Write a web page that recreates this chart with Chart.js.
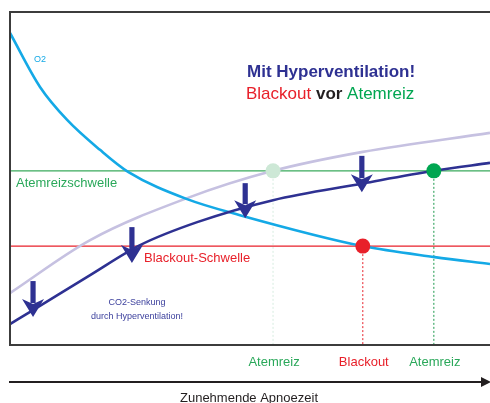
<!DOCTYPE html>
<html>
<head>
<meta charset="utf-8">
<script src="https://cdn.jsdelivr.net/npm/chart.js@4/dist/chart.umd.min.js"></script>
<style>
  html, body { margin: 0; padding: 0; background: #ffffff; }
  #wrap { width: 490px; height: 403px; position: relative; }
</style>
</head>
<body>
<div id="wrap"><canvas id="c" width="490" height="403"></canvas></div>
<script>
// ---- data (time in % of plotted apnoea time, level in % of plot height) ----
const o2Time   = [0, 6.25, 11.9, 18.75, 24.6, 36.9, 47.9, 73.5, 88.5, 100];
const o2Level  = [93.7, 77.5, 67.6, 58.6, 52.0, 43.8, 39.0, 29.7, 26.4, 24.3];

const co2Time   = [0, 16.7, 36.9, 54.8, 73.5, 100];
const co2Normal = [15.6, 31.5, 44.1, 52.3, 58.0, 63.7];

const hyperTime = [0, 4.8, 16.7, 27.1, 39.0, 54.8, 73.5, 88.3, 100];
const co2Hyper  = [6.3, 10.5, 21.0, 30.0, 36.9, 43.5, 48.5, 52.3, 54.7];

const atemreizLevel = 52.3;
const blackoutLevel = 29.7;

const eventTime  = [54.8, 73.5, 88.3];
const eventLevel = [52.3, 29.7, 52.3];
const eventLabel = ['Atemreiz', 'Blackout', 'Atemreiz'];
const eventColor = ['#cde8d6', '#e8202a', '#00a651'];
const eventLabelColor = ['#2aa85a', '#e8202a', '#2aa85a'];
const eventLineColor = ['#d6ecdf', '#e8202a', '#1e9a4e'];

const arrowTime = [4.8, 25.4, 49.0, 73.3];
const arrowFrom = [19.2, 35.4, 48.6, 56.8];
const arrowTo   = [8.4, 24.6, 38.1, 45.9];

// ---- build datasets ----
const zip = (xs, ys) => xs.map((x, i) => ({ x: x, y: ys[i] }));

const datasets = [];
// vertical dotted event lines
eventTime.forEach((t, i) => {
  datasets.push({
    type: 'line', data: [{ x: t, y: eventLevel[i] }, { x: t, y: 0 }],
    borderColor: eventLineColor[i], borderWidth: 1, borderDash: [2, 2],
    pointRadius: 0, fill: false, order: 10
  });
});
// threshold lines
datasets.push({ type: 'line', data: [{ x: 0, y: atemreizLevel }, { x: 100, y: atemreizLevel }],
  borderColor: '#3aaa5c', borderWidth: 1.2, pointRadius: 0, order: 9 });
datasets.push({ type: 'line', data: [{ x: 0, y: blackoutLevel }, { x: 100, y: blackoutLevel }],
  borderColor: '#e8202a', borderWidth: 1.2, pointRadius: 0, order: 9 });
// curves
datasets.push({ type: 'line', data: zip(co2Time, co2Normal), borderColor: '#c6c1e1', borderWidth: 2.6,
  pointRadius: 0, cubicInterpolationMode: 'monotone', order: 8 });
datasets.push({ type: 'line', data: zip(o2Time, o2Level), borderColor: '#14a9e6', borderWidth: 2.6,
  pointRadius: 0, cubicInterpolationMode: 'monotone', order: 7 });
datasets.push({ type: 'line', data: zip(hyperTime, co2Hyper), borderColor: '#2e3192', borderWidth: 2.6,
  pointRadius: 0, cubicInterpolationMode: 'monotone', order: 6 });
// event points
datasets.push({ type: 'scatter', data: zip(eventTime, eventLevel), pointRadius: 7.5, pointHoverRadius: 7.5,
  backgroundColor: eventColor, borderWidth: 0, order: 1 });

// ---- plugin for frame, arrows and texts ----
const decor = {
  id: 'decor',
  afterDatasetsDraw(chart) {
    const ctx = chart.ctx, xs = chart.scales.x, ys = chart.scales.y, a = chart.chartArea;
    ctx.save();
    // frame
    ctx.strokeStyle = '#3c3c3c'; ctx.lineWidth = 2;
    ctx.beginPath();
    ctx.moveTo(a.right + 5, a.top); ctx.lineTo(a.left, a.top); ctx.lineTo(a.left, a.bottom); ctx.lineTo(a.right + 5, a.bottom);
    ctx.stroke();

    // down arrows
    ctx.fillStyle = '#2e3192';
    arrowTime.forEach((t, i) => {
      const x = xs.getPixelForValue(t);
      const y0 = ys.getPixelForValue(arrowFrom[i]);
      const y1 = ys.getPixelForValue(arrowTo[i]);
      const headH = 18, headW = 11, sw = 2.6;
      ctx.fillRect(x - sw, y0, sw * 2, (y1 - y0) - headH + 4);
      ctx.beginPath();
      ctx.moveTo(x, y1);
      ctx.lineTo(x - headW, y1 - headH);
      ctx.lineTo(x, y1 - headH + 5);
      ctx.lineTo(x + headW, y1 - headH);
      ctx.closePath();
      ctx.fill();
    });

    const F = '"Liberation Sans", Arial, Helvetica, sans-serif';
    ctx.textBaseline = 'alphabetic';

    // titles
    ctx.textAlign = 'left';
    ctx.font = 'bold 17px ' + F; ctx.fillStyle = '#2e3192';
    ctx.fillText('Mit Hyperventilation!', 247, 77);
    let x = 246;
    ctx.font = '17px ' + F; ctx.fillStyle = '#e8202a';
    ctx.fillText('Blackout ', x, 99); x += ctx.measureText('Blackout ').width;
    ctx.font = 'bold 17px ' + F; ctx.fillStyle = '#231f20';
    ctx.fillText('vor ', x, 99); x += ctx.measureText('vor ').width;
    ctx.font = '17px ' + F; ctx.fillStyle = '#00a651';
    ctx.fillText('Atemreiz', x, 99);

    // curve / threshold labels
    ctx.font = '9px ' + F; ctx.fillStyle = '#14a9e6';
    ctx.fillText('O2', 34, 62);
    ctx.font = '13px ' + F; ctx.fillStyle = '#2aa85a';
    ctx.fillText('Atemreizschwelle', 16, 187);
    ctx.fillStyle = '#e8202a';
    ctx.fillText('Blackout-Schwelle', 144, 262);
    ctx.textAlign = 'center';
    ctx.font = '9px ' + F; ctx.fillStyle = '#3b3f9c';
    ctx.fillText('CO2-Senkung', 137, 305);
    ctx.fillText('durch Hyperventilation!', 137, 319);

    // event labels
    ctx.font = '13px ' + F;
    eventTime.forEach((t, i) => {
      ctx.fillStyle = eventLabelColor[i];
      ctx.fillText(eventLabel[i], xs.getPixelForValue(t) + 1, 366);
    });

    // time axis arrow
    ctx.strokeStyle = '#231f20'; ctx.lineWidth = 2;
    ctx.beginPath(); ctx.moveTo(9, 382); ctx.lineTo(484, 382); ctx.stroke();
    ctx.fillStyle = '#231f20';
    ctx.beginPath(); ctx.moveTo(491, 382); ctx.lineTo(481, 377); ctx.lineTo(481, 387); ctx.closePath(); ctx.fill();
    ctx.font = '13px ' + F; ctx.fillStyle = '#231f20';
    ctx.fillText('Zunehmende Apnoezeit', 249, 402);
    ctx.restore();
  }
};

new Chart(document.getElementById('c'), {
  data: { datasets: datasets },
  options: {
    responsive: false, animation: false,
    layout: { autoPadding: false, padding: { left: 10, top: 12, right: 0, bottom: 58 } },
    scales: {
      x: { type: 'linear', min: 0, max: 100, display: false },
      y: { type: 'linear', min: 0, max: 100, display: false }
    },
    plugins: { legend: { display: false }, tooltip: { enabled: false } }
  },
  plugins: [decor]
});
</script>
</body>
</html>
